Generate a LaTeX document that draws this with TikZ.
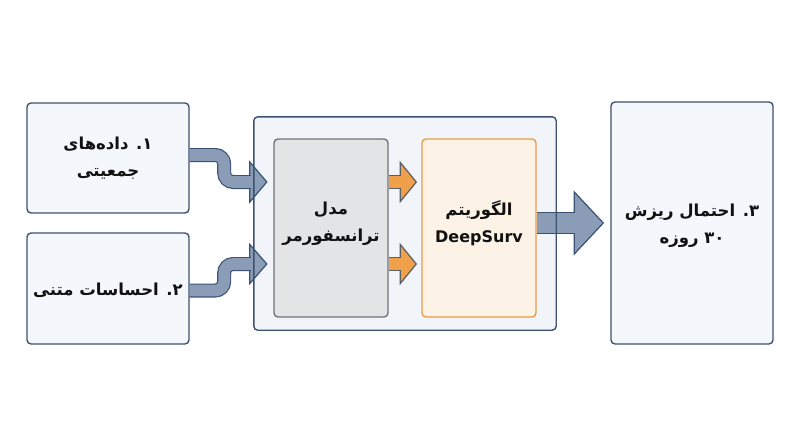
\documentclass[tikz,border=0pt]{standalone}
\usepackage{fontspec}
\usetikzlibrary{calc}
\TeXXeTstate=1
\newfontfamily\arabicfont[Script=Arabic]{DejaVu Sans}
\newfontfamily\latinsans{DejaVu Sans}
\definecolor{boxfill}{HTML}{F4F7FB}
\definecolor{boxline}{HTML}{3D526E}
\definecolor{contfill}{HTML}{F1F5FA}
\definecolor{grayfill}{HTML}{E3E4E6}
\definecolor{grayline}{HTML}{6E737A}
\definecolor{orfill}{HTML}{FDF2E6}
\definecolor{orline}{HTML}{EB9A45}
\definecolor{bafill}{HTML}{8B9DB6}
\definecolor{baline}{HTML}{3B5275}
\definecolor{oafill}{HTML}{F0A04A}
\definecolor{oaline}{HTML}{5A5E66}
\definecolor{txt}{HTML}{111111}
\begin{document}
\begin{tikzpicture}[x=1pt,y=-1pt,
  sbox/.style={draw=boxline, fill=boxfill, line width=1.4pt, rounded corners=4pt, inner sep=0pt},
  contbox/.style={draw=none, fill=contfill, rounded corners=4pt, inner sep=0pt},
  graybox/.style={draw=grayline, fill=grayfill, line width=1.4pt, rounded corners=4pt, inner sep=0pt},
  orbox/.style={draw=orline, fill=orfill, line width=1.4pt, rounded corners=4pt, inner sep=0pt},
  lbl/.style={text=txt, align=center, font=\arabicfont\bfseries\fontsize{16.5}{27}\selectfont, inner sep=0pt},
  bshaft/.style={draw=baline, line width=1.2pt, double=bafill, double distance=11.6pt, rounded corners=9pt},
  bhead/.style={draw=baline, fill=bafill, line width=1.2pt, line join=miter},
  oshaft/.style={draw=oaline, line width=1.2pt, double=oafill, double distance=11.6pt},
  ohead/.style={draw=oaline, fill=oafill, line width=1.2pt, line join=miter},
  bigshaft/.style={draw=baline, line width=1.2pt, double=bafill, double distance=19.6pt},
]
\useasboundingbox (0,0) rectangle (800,447);

% outer boxes
\node[sbox, minimum width=162pt, minimum height=110pt] (box1) at (108,158) {};
\node[sbox, minimum width=162pt, minimum height=111pt] (box2) at (108,288.5) {};
\node[sbox, minimum width=162pt, minimum height=242pt] (box3) at (692,223) {};
\node[contbox, minimum width=302pt, minimum height=213pt] (cont) at (405,223.5) {};
\node[graybox, minimum width=114pt, minimum height=178pt] (gray) at (331,228) {};
\node[orbox, minimum width=114pt, minimum height=178pt] (orange) at (479,228) {};

% texts
\node[lbl] (t1) at ($(box1.center)+(0,0.5)$) {\beginR ۱. داده‌های\endR\\\beginR جمعیتی\endR};
\node[lbl] (t2) at ($(box2.center)+(0,1.5)$) {\beginR ۲. احساسات متنی\endR};
\node[lbl] (t3) at ($(box3.center)+(0,2.5)$) {\beginR ۳. احتمال ریزش\endR\\\beginR \beginL۳۰\endL{} روزه\endR};
\node[lbl] (tg) at ($(gray.center)+(0,-4.5)$) {\beginR مدل\endR\\\beginR ترانسفورمر\endR};
\node[lbl] (to) at ($(orange.center)+(0,-4.5)$) {\beginR الگوریتم\endR\\{\latinsans\bfseries\fontsize{16}{27}\selectfont DeepSurv}};

% blue bent arrows
\coordinate (tip1) at ($(cont.west)+(13,-41.5)$);
\coordinate (tip2) at ($(cont.west)+(13,40.5)$);
\path[bhead] (tip1) -- ++(-17,-20) -- ++(0,40) -- cycle;
\path[bhead] (tip2) -- ++(-17,-19.5) -- ++(0,39) -- cycle;
\path[bshaft] ($(box1.east)+(0,-3)$) -- ++(34.5,0) |- ($(tip1)+(-16,0)$);
\path[bshaft] ($(box2.east)+(0,2)$) -- ++(34.5,0) |- ($(tip2)+(-16,0)$);

% orange arrows
\coordinate (otip1) at ($(orange.west)+(-5,-46)$);
\coordinate (otip2) at ($(orange.west)+(-5,36)$);
\path[ohead] (otip1) -- ++(-16,-19.5) -- ++(0,39) -- cycle;
\path[ohead] (otip2) -- ++(-16,-19.5) -- ++(0,39) -- cycle;
\path[oshaft] ($(gray.east)+(0.7,-46)$) -- ($(otip1)+(-15.2,0)$);
\path[oshaft] ($(gray.east)+(0.7,36)$) -- ($(otip2)+(-15.2,0)$);

% big arrow
\coordinate (btip) at ($(box3.west)+(-7,0)$);
\path[bhead] (btip) -- ++(-29,-31) -- ++(0,62) -- cycle;
\path[bigshaft] ($(orange.east)+(0.7,-5)$) -- ($(btip)+(-28.2,0)$);

% container border on top
\draw[draw=boxline, line width=1.4pt, rounded corners=4pt] (cont.north west) rectangle (cont.south east);
\end{tikzpicture}
\end{document}
